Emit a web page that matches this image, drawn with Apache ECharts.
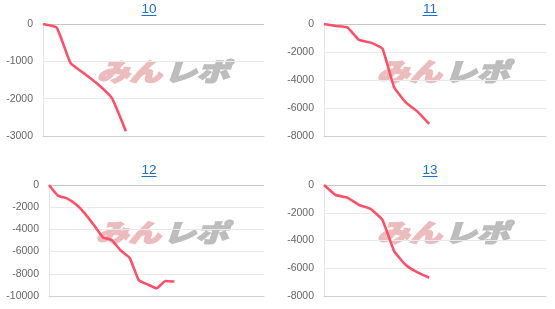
<!DOCTYPE html>
<html>
<head>
<meta charset="utf-8">
<script src="https://cdn.jsdelivr.net/npm/echarts@6/dist/echarts.min.js"></script>
<style>html,body{margin:0;padding:0;background:#fff}#c{width:555px;height:309px}</style>
</head>
<body>
<div id="c"></div>
<script>
// Titles of the four panels
var titles = ['10', '11', '12', '13'];
// number of x slots on each panel's axis
var slots = [17, 20, 25, 20];
// series values
var values10 = [0, -100, -1050, -1330, -1620, -1990, -2870];
var values11 = [0, -140, -240, -1140, -1330, -1760, -4520, -5600, -6260, -7140];
var values12 = [0, -960, -1200, -1740, -2550, -3600, -4700, -4950, -5900, -6550, -8550, -8950, -9300, -8650, -8700];
var values13 = [0, -720, -910, -1440, -1730, -2520, -4760, -5770, -6300, -6680];
// y axis ranges
var yMins = [-3000, -8000, -10000, -8000];
var yIntervals = [1000, 2000, 2000, 2000];

var allValues = [values10, values11, values12, values13];

var grids = [
  {left: 43, top: 24, width: 221, height: 112},
  {left: 324, top: 24, width: 222, height: 112},
  {left: 49, top: 185, width: 215, height: 111},
  {left: 324, top: 185, width: 222, height: 111}
];
var titlePos = [[149, 9], [430, 9], [149, 170], [430, 170]];
var markPos = [[163, 71.5], [443, 71.5], [162, 232.5], [443, 232.5]];

var FONT = '"Liberation Sans", Arial, sans-serif';
var xAxes = [], yAxes = [], series = [], graphics = [];
for (var i = 0; i < 4; i++) {
  var cats = [];
  for (var k = 0; k < slots[i]; k++) cats.push(String(k + 1));
  xAxes.push({
    type: 'category', gridIndex: i, data: cats, boundaryGap: false,
    axisLine: {show: true, onZero: false, lineStyle: {color: '#cfcfcf', width: 1}},
    axisTick: {show: false}, axisLabel: {show: false},
    splitLine: {show: false}
  });
  var nTicks = Math.round(-yMins[i] / yIntervals[i]) + 1;
  var colors = [];
  for (var t = 0; t < nTicks; t++) colors.push(t === 0 ? '#cfcfcf' : (t === nTicks - 1 ? '#c6c6c6' : '#e9e9e9'));
  yAxes.push({
    type: 'value', gridIndex: i, min: yMins[i], max: 0, interval: yIntervals[i],
    axisLine: {show: true, lineStyle: {color: '#e6e6e6'}},
    axisTick: {show: false},
    axisLabel: {color: '#666', fontSize: 10.5, fontFamily: FONT, margin: 10, formatter: function (v) { return String(v); }},
    splitLine: {show: true, lineStyle: {color: colors, width: 1}}
  });
  series.push({
    type: 'line', xAxisIndex: i, yAxisIndex: i, data: allValues[i],
    smooth: 0.12, symbol: 'none', z: 5,
    lineStyle: {color: '#ff4f68', width: 2.6}
  });
  // title
  graphics.push({
    type: 'text', x: titlePos[i][0], y: titlePos[i][1], z: 10,
    style: {text: titles[i], fill: '#1a6fd0', fontSize: 13.5, fontFamily: FONT, textAlign: 'center', textVerticalAlign: 'middle'}
  });
  graphics.push({
    type: 'line', z: 10,
    shape: {x1: titlePos[i][0] - 7.5, y1: titlePos[i][1] + 6.5, x2: titlePos[i][0] + 7.5, y2: titlePos[i][1] + 6.5},
    style: {stroke: '#1a6fd0', lineWidth: 1}
  });
  // watermark
  graphics.push({
    type: 'group', x: markPos[i][0], y: markPos[i][1], scaleX: 1.3, z: 1,
    children: [
      {type: 'text', x: -1, y: 0, style: {text: 'みん', fill: '#ecbcbc', fontSize: 25, fontWeight: 900, fontStyle: 'italic', fontFamily: '"Noto Sans CJK JP"', textAlign: 'right', textVerticalAlign: 'middle', stroke: '#ecbcbc', lineWidth: 1.5}},
      {type: 'text', x: 1, y: 0, style: {text: 'レポ', fill: '#bdbdbd', fontSize: 25, fontWeight: 900, fontStyle: 'italic', fontFamily: '"Noto Sans CJK JP"', textAlign: 'left', textVerticalAlign: 'middle', stroke: '#bdbdbd', lineWidth: 1.5}}
    ]
  });
}

var chart = echarts.init(document.getElementById('c'), null, {renderer: 'canvas'});
chart.setOption({
  animation: false,
  grid: grids,
  xAxis: xAxes,
  yAxis: yAxes,
  series: series,
  graphic: graphics
});
</script>
</body>
</html>
